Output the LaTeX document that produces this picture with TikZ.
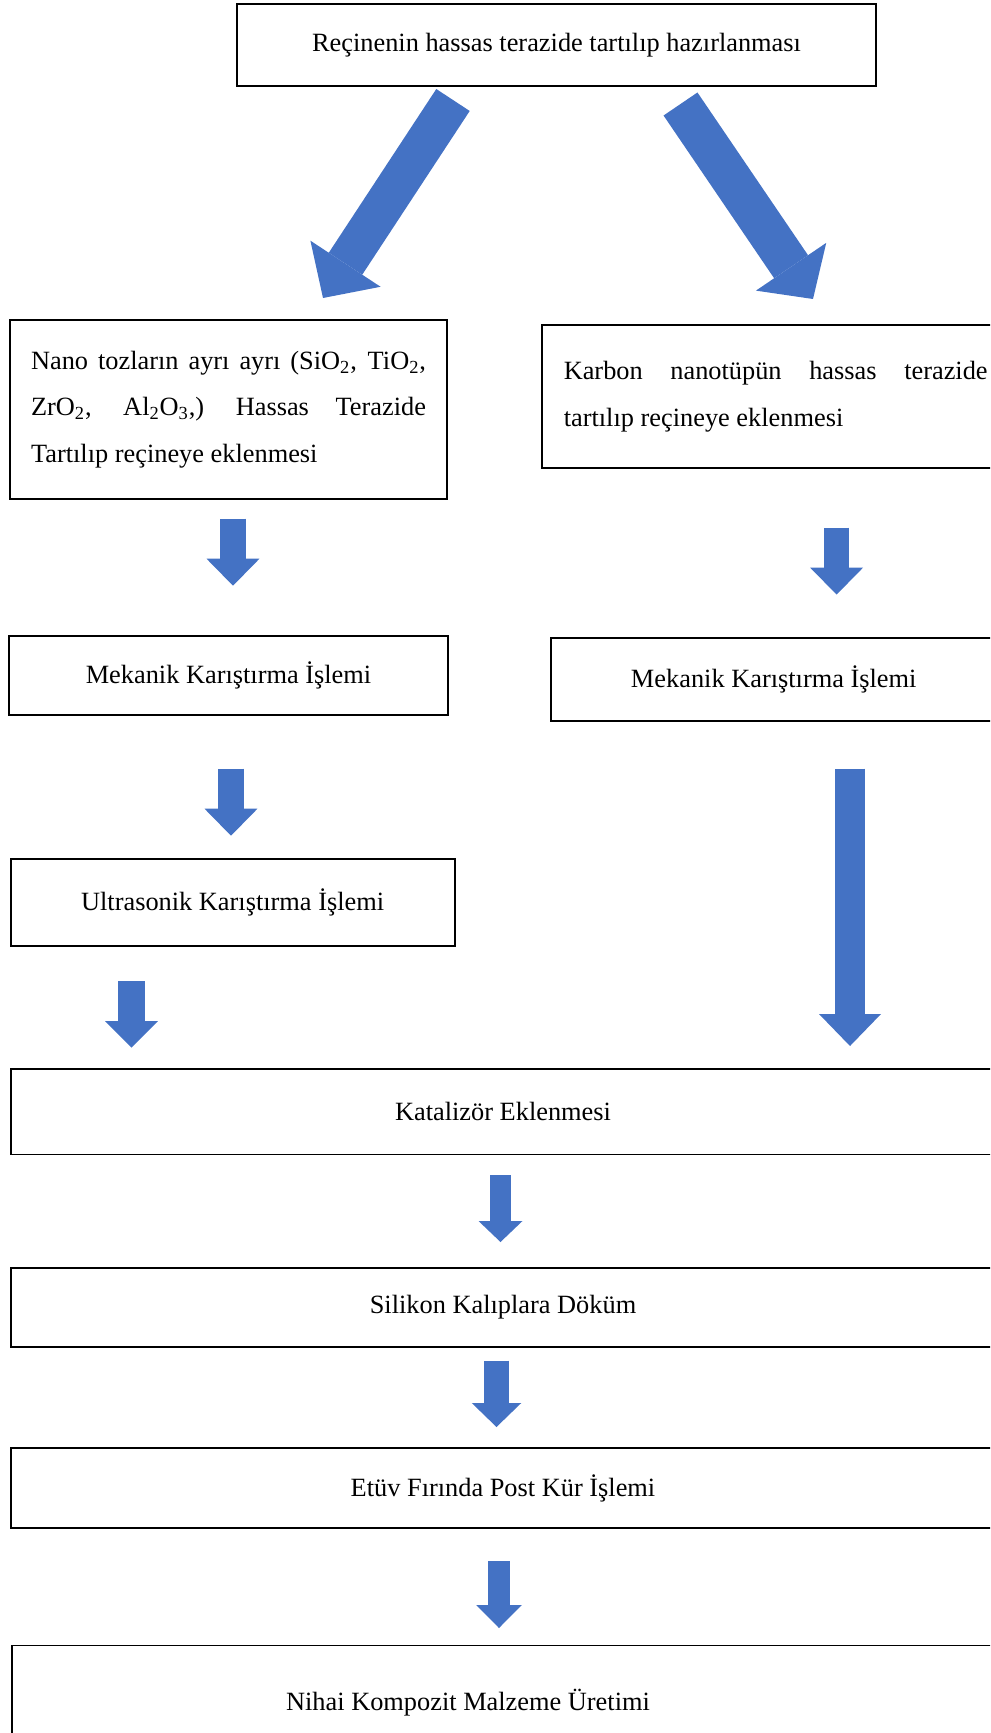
\documentclass[tikz,border=0pt]{standalone}
\usepackage{fontspec}
\setmainfont{Liberation Serif}
\usetikzlibrary{arrows.meta}
\definecolor{okblue}{HTML}{4472C4}
\hyphenpenalty=10000

\begin{document}
\begin{tikzpicture}[x=0.02cm, y=-0.02cm,
  box/.style={draw, line width=1.1pt, inner sep=0pt, align=center, font=\fontsize{15}{26.5}\selectfont},
  parbox/.style={box, align=justify, inner ysep=0pt},
  blockarrow/.style n args={3}{draw=okblue, line width=#1, -{Triangle[width=#2, length=#3, line width=0pt, fill=okblue]}}]

\useasboundingbox (0,0) rectangle (990,1733);
\clip (0,0) rectangle (990,1733);

% boxes
\node[box, minimum width=12.78cm, minimum height=1.64cm] (recine) at (556.5,45) {Reçinenin hassas terazide tartılıp hazırlanması};
\node[parbox, text width=7.9cm, inner xsep=0.42cm, minimum height=3.58cm] (nano) at (228.5,409.5) {Nano tozların ayrı ayrı (SiO\textsubscript{2}, TiO\textsubscript{2}, ZrO\textsubscript{2}, Al\textsubscript{2}O\textsubscript{3},) Hassas Terazide Tartılıp reçineye eklenmesi};
\node[parbox, text width=8.48cm, inner xsep=0.44cm, minimum height=2.86cm] (karbon) at (775.7,396.5) {Karbon nanotüpün hassas terazide tartılıp reçineye eklenmesi};
\node[box, minimum width=8.78cm, minimum height=1.58cm] (mek1) at (228.5,675.5) {Mekanik Karıştırma İşlemi};
\node[box, minimum width=8.9cm, minimum height=1.66cm] (mek2) at (773.7,679.5) {Mekanik Karıştırma İşlemi};
\node[box, minimum width=8.88cm, minimum height=1.74cm] (ultra) at (232.6,902.5) {Ultrasonik Karıştırma İşlemi};
\node[box, minimum width=19.69cm, minimum height=1.71cm] (katalizor) at (503,1111.75) {Katalizör Eklenmesi};
\node[box, minimum width=19.69cm, minimum height=1.58cm] (silikon) at (503,1307.5) {Silikon Kalıplara Döküm};
\node[box, minimum width=19.69cm, minimum height=1.59cm] (etuv) at (503,1488) {Etüv Fırında Post Kür İşlemi};
\node[box, minimum width=20cm, minimum height=3cm, anchor=north west] (nihai) at (10.7,1644.5) {};
\node[font=\fontsize{15}{26.5}\selectfont, inner sep=0pt] (nihaitxt) at (468,1703) {Nihai Kompozit Malzeme Üretimi};

% arrow ends
\coordinate (d1s) at (453,100);
\coordinate (d1e) at (323,298);
\coordinate (d2s) at (680.5,104);
\coordinate (d2e) at (813,299);
\coordinate (a1s) at (233,518.6);
\coordinate (a1e) at (233,585.7);
\coordinate (a2s) at (836.6,527.5);
\coordinate (a2e) at (836.6,594.6);
\coordinate (a3s) at (231,768.6);
\coordinate (a3e) at (231,835.7);
\coordinate (a4s) at (131.5,981);
\coordinate (a4e) at (131.5,1047.5);
\coordinate (a5s) at (850,768.6);
\coordinate (a5e) at (850,1046);
\coordinate (a6s) at (500.5,1175);
\coordinate (a6e) at (500.5,1242);
\coordinate (a7s) at (496.5,1360.5);
\coordinate (a7e) at (496.5,1427);
\coordinate (a8s) at (499,1561);
\coordinate (a8e) at (499,1628);

% arrows
\draw[blockarrow={0.8cm}{1.68cm}{0.82cm}] (d1s) -- (d1e);
\draw[blockarrow={0.82cm}{1.7cm}{0.78cm}] (d2s) -- (d2e);
\draw[blockarrow={0.52cm}{1.06cm}{0.54cm}] (a1s) -- (a1e);
\draw[blockarrow={0.5cm}{1.06cm}{0.54cm}] (a2s) -- (a2e);
\draw[blockarrow={0.52cm}{1.06cm}{0.54cm}] (a3s) -- (a3e);
\draw[blockarrow={0.54cm}{1.06cm}{0.53cm}] (a4s) -- (a4e);
\draw[blockarrow={0.61cm}{1.24cm}{0.64cm}] (a5s) -- (a5e);
\draw[blockarrow={0.42cm}{0.88cm}{0.42cm}] (a6s) -- (a6e);
\draw[blockarrow={0.5cm}{0.99cm}{0.48cm}] (a7s) -- (a7e);
\draw[blockarrow={0.44cm}{0.91cm}{0.46cm}] (a8s) -- (a8e);

\end{tikzpicture}
\end{document}
